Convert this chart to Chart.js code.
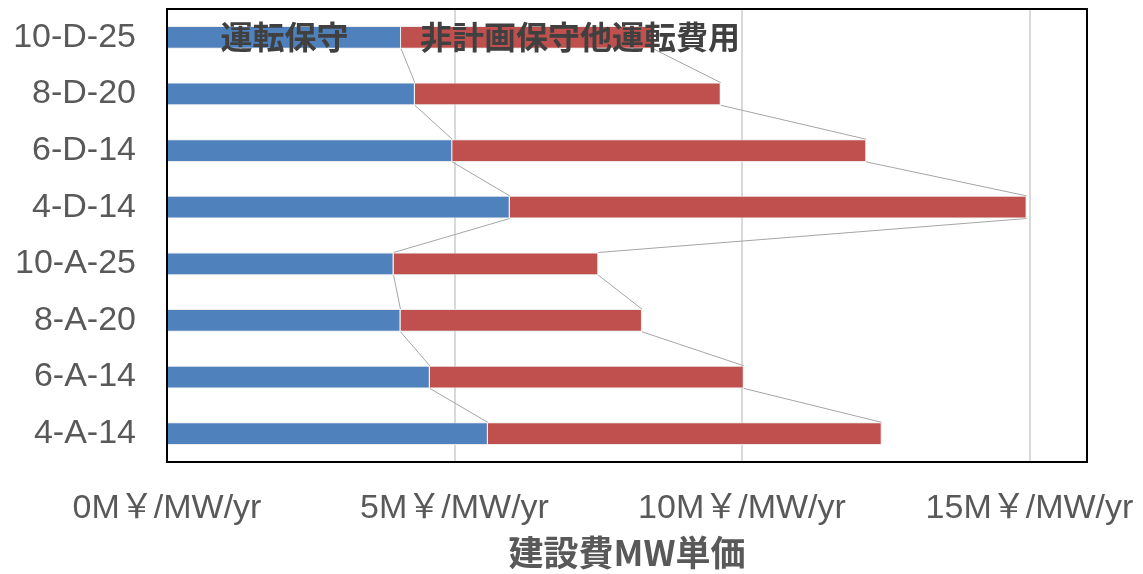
<!DOCTYPE html>
<html>
<head>
<meta charset="utf-8">
<script src="https://cdn.jsdelivr.net/npm/chart.js@4/dist/chart.umd.min.js"></script>
<style>
  html, body { margin: 0; padding: 0; background: #fff; }
  #wrap { width: 1143px; height: 574px; }
</style>
</head>
<body>
<div id="wrap"><canvas id="costChart" width="1143" height="574"></canvas></div>
<script>
// 建設費MW単価 (M￥/MW/yr)
const categories = ['10-D-25', '8-D-20', '6-D-14', '4-D-14', '10-A-25', '8-A-20', '6-A-14', '4-A-14'];
const seriesNames = ['運転保守', '非計画保守他運転費用'];
const omCost = [4.07, 4.31, 4.96, 5.96, 3.94, 4.06, 4.57, 5.58];
const otherCost = [4.38, 5.32, 7.20, 8.99, 3.56, 4.20, 5.46, 6.85];
const xTicks = [0, 5, 10, 15];
const xMax = 16;

const fontLatin = '"Liberation Sans", "Noto Sans CJK JP", sans-serif';

// Excel風のシリーズ線 + ラベル + 枠線
const seriesLines = {
    id: 'seriesLines',
    beforeDatasetsDraw(chart) {
        const ctx = chart.ctx;
        ctx.save();
        ctx.strokeStyle = '#a5a5a5';
        ctx.lineWidth = 1;
        chart.data.datasets.forEach((ds, di) => {
            const bars = chart.getDatasetMeta(di).data;
            for (let i = 0; i < bars.length - 1; i++) {
                const a = bars[i], b = bars[i + 1];
                ctx.beginPath();
                ctx.moveTo(a.x, a.y + a.height / 2);
                ctx.lineTo(b.x, b.y - b.height / 2);
                ctx.stroke();
            }
        });
        ctx.restore();
    },
    afterDatasetsDraw(chart) {
        const ctx = chart.ctx;
        const a = chart.chartArea;
        ctx.save();
        ctx.strokeStyle = '#000';
        ctx.lineWidth = 2;
        ctx.strokeRect(a.left, a.top, a.right - a.left, a.bottom - a.top);

        // 最上段のバーに系列名を表示
        const b0 = chart.getDatasetMeta(0).data[0];
        const b1 = chart.getDatasetMeta(1).data[0];
        ctx.fillStyle = '#404040';
        ctx.font = 'bold 32px "Noto Sans CJK JP", sans-serif';
        ctx.textBaseline = 'middle';
        ctx.textAlign = 'center';
        ctx.fillText(seriesNames[0], (b0.base + b0.x) / 2, b0.y);
        ctx.textAlign = 'left';
        ctx.fillText(seriesNames[1], b1.base + 19, b1.y);
        ctx.restore();
    }
};

new Chart(document.getElementById('costChart'), {
    type: 'bar',
    data: {
        labels: categories,
        datasets: [
            { label: seriesNames[0], data: omCost, backgroundColor: '#4f81bd', borderColor: 'rgba(230,230,230,0.8)', borderWidth: 1 },
            { label: seriesNames[1], data: otherCost, backgroundColor: '#c0504d', borderColor: 'rgba(230,230,230,0.8)', borderWidth: 1 }
        ]
    },
    options: {
        indexAxis: 'y',
        responsive: false,
        animation: false,
        layout: { padding: { left: 0, top: 9, right: 56, bottom: 0 } },
        datasets: { bar: { categoryPercentage: 1, barPercentage: 0.4 } },
        plugins: { legend: { display: false }, tooltip: { enabled: false } },
        scales: {
            x: {
                stacked: true,
                min: 0,
                max: xMax,
                afterBuildTicks: s => { s.ticks = xTicks.map(v => ({ value: v })); },
                afterFit: s => { s.height = 112; s.paddingLeft = 0; s.paddingRight = 0; },
                border: { display: false },
                grid: { color: '#d9d9d9', lineWidth: 2, drawTicks: false },
                ticks: {
                    padding: 26,
                    color: '#595959',
                    font: { family: fontLatin, size: 34 },
                    maxRotation: 0,
                    callback: v => v + 'M￥/MW/yr'
                },
                title: {
                    display: true,
                    text: '建設費MW単価',
                    color: '#595959',
                    font: { family: '"Noto Sans CJK JP", sans-serif', size: 35, weight: 'bold', lineHeight: 1.2 },
                    padding: { top: 0, bottom: 0 }
                }
            },
            y: {
                stacked: true,
                afterFit: s => { s.width = 167; s.paddingTop = 0; s.paddingBottom = 0; },
                border: { display: false },
                grid: { display: false, drawTicks: false },
                ticks: {
                    padding: 31,
                    color: '#595959',
                    font: { family: fontLatin, size: 34 }
                }
            }
        }
    },
    plugins: [seriesLines]
});
</script>
</body>
</html>
